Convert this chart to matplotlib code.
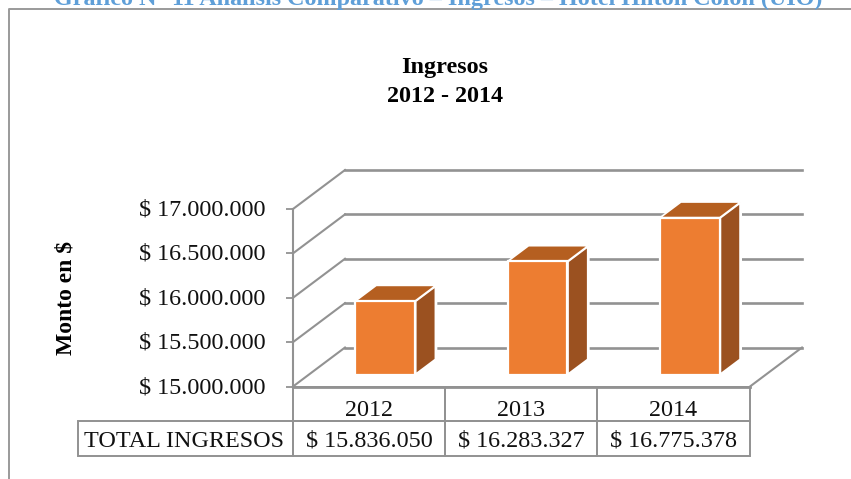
import matplotlib
matplotlib.use("Agg")
import matplotlib.pyplot as plt
from matplotlib.lines import Line2D
from matplotlib.patches import Rectangle
from matplotlib.transforms import ScaledTranslation

# Data
years = ["2012", "2013", "2014"]
ingresos = [15836050, 16283327, 16775378]
y_ticks = [15000000, 15500000, 16000000, 16500000, 17000000]
row_label = "TOTAL INGRESOS"

W, H = 851, 479
GRAY = "#929292"
plt.rcParams["font.family"] = ["Liberation Serif", "DejaVu Serif"]
FS = 17.4


def money(v):
    return f"$ {v:,}".replace(",", ".")


fig = plt.figure(figsize=(W / 100, H / 100), dpi=100)


# Pixel position (y from the top) to figure fraction
def px(x, y):
    return x / W, 1 - y / H


# The axes is the front plane of the 3D box
left, bottom = px(293, 386.5)
ax = fig.add_axes([left, bottom, (750 - 293) / W, (386.5 - 209) / H])
ax.set_xlim(0, len(years))
ax.set_ylim(y_ticks[0], y_ticks[-1])
ax.patch.set_visible(False)
for side in ["top", "right", "bottom"]:
    ax.spines[side].set_visible(False)
ax.spines["left"].set_color(GRAY)
ax.spines["left"].set_linewidth(1.5)
ax.set_xticks([])
ax.set_yticks(y_ticks)
ax.set_yticklabels([money(v) for v in y_ticks], fontsize=FS, color="#111111")
ax.tick_params(axis="y", length=5, width=1.3, color=GRAY, pad=15)
# Tick labels sit a little above their ticks
lift = ScaledTranslation(0, 1.5 / 100, fig.dpi_scale_trans)
for lab in ax.get_yticklabels():
    lab.set_verticalalignment("center_baseline")
    lab.set_transform(lab.get_transform() + lift)

# Depth of the box in data units
depth_x = 52 / (457 / 3)
depth_y = 39 / 177.5 * 2000000
y0 = y_ticks[0]

# Side wall and back wall gridlines
for v in y_ticks:
    ax.plot([0, depth_x], [v, v + depth_y], color=GRAY, lw=1.5, clip_on=False, zorder=1)
    ax.plot([depth_x, 3 + depth_x], [v + depth_y, v + depth_y], color=GRAY, lw=1.9,
            clip_on=False, zorder=1)

# Floor edges
ax.plot([0, 3], [y0, y0], color=GRAY, lw=2, clip_on=False, zorder=1)
ax.plot([3, 3 + depth_x], [y0, y0 + depth_y], color=GRAY, lw=1.5, clip_on=False, zorder=1)

# 3D bars: front, top and side faces
bar_w = 0.392
front = 0.29
bar_dx = depth_x * 0.40
bar_dy = depth_y * 0.40
for i, v in enumerate(ingresos):
    x1 = i + 0.5 + depth_x * 0.31 - bar_w / 2
    x2 = x1 + bar_w
    b = y0 + depth_y * front
    t = v + depth_y * front
    ax.fill([x2, x2 + bar_dx, x2 + bar_dx, x2], [b, b + bar_dy, t + bar_dy, t],
            facecolor="#9B5120", edgecolor="white", lw=2, clip_on=False, zorder=3)
    ax.fill([x1, x2, x2 + bar_dx, x1 + bar_dx], [t, t, t + bar_dy, t + bar_dy],
            facecolor="#B55F20", edgecolor="white", lw=1.2, clip_on=False, zorder=3)
    ax.fill([x1, x2, x2, x1], [b, b, t, t],
            facecolor="#ED7D31", edgecolor="white", lw=1.6, clip_on=False, zorder=4)

# Data table under the chart
col_x = [293, 445, 597, 750]
table_rows = [387, 421, 456]
for i in range(3):
    for r in range(2):
        x, y = px(col_x[i], table_rows[r + 1])
        fig.add_artist(Rectangle((x, y), (col_x[i + 1] - col_x[i]) / W,
                                 (table_rows[r + 1] - table_rows[r]) / H,
                                 transform=fig.transFigure, fill=False,
                                 edgecolor=GRAY, lw=1.4))
    xc, yc = px((col_x[i] + col_x[i + 1]) / 2, 408)
    fig.text(xc, yc, years[i], ha="center", va="center_baseline", fontsize=FS, color="#111111")
    xc, yc = px((col_x[i] + col_x[i + 1]) / 2, 439)
    fig.text(xc, yc, money(ingresos[i]), ha="center", va="center_baseline", fontsize=FS,
             color="#111111")

x, y = px(78, 456)
fig.add_artist(Rectangle((x, y), 215 / W, 35 / H, transform=fig.transFigure, fill=False,
                         edgecolor=GRAY, lw=1.4))
xc, yc = px(184.5, 439)
fig.text(xc, yc, row_label, ha="center", va="center_baseline", fontsize=FS, color="#111111")

# Titles
xc, yc = px(445, 68)
fig.text(xc, yc, "Ingresos", ha="center", va="center", fontsize=FS, fontweight="bold")
xc, yc = px(445, 96)
fig.text(xc, yc, "2012 - 2014", ha="center", va="center", fontsize=FS, fontweight="bold")
xc, yc = px(66, 298)
fig.text(xc, yc, "Monto en $", ha="center", va="center", rotation=90, fontsize=17,
         fontweight="bold")

# Heading of the page, cut by the top edge of the picture
xc, yc = px(438, 5)
fig.text(xc, yc, "Gráfico N° 11 Análisis Comparativo – Ingresos – Hotel Hilton Colón (UIO)",
         ha="center", va="baseline", fontsize=FS, fontweight="bold", color="#5F9FD8")

# Outer frame: only the top and left edges are visible
fig.add_artist(Line2D([9 / W, 9 / W, 1], [0, 1 - 9 / H, 1 - 9 / H], transform=fig.transFigure,
                      color="#9A9A9A", lw=1.4))

fig.savefig("out.png", dpi=100)
